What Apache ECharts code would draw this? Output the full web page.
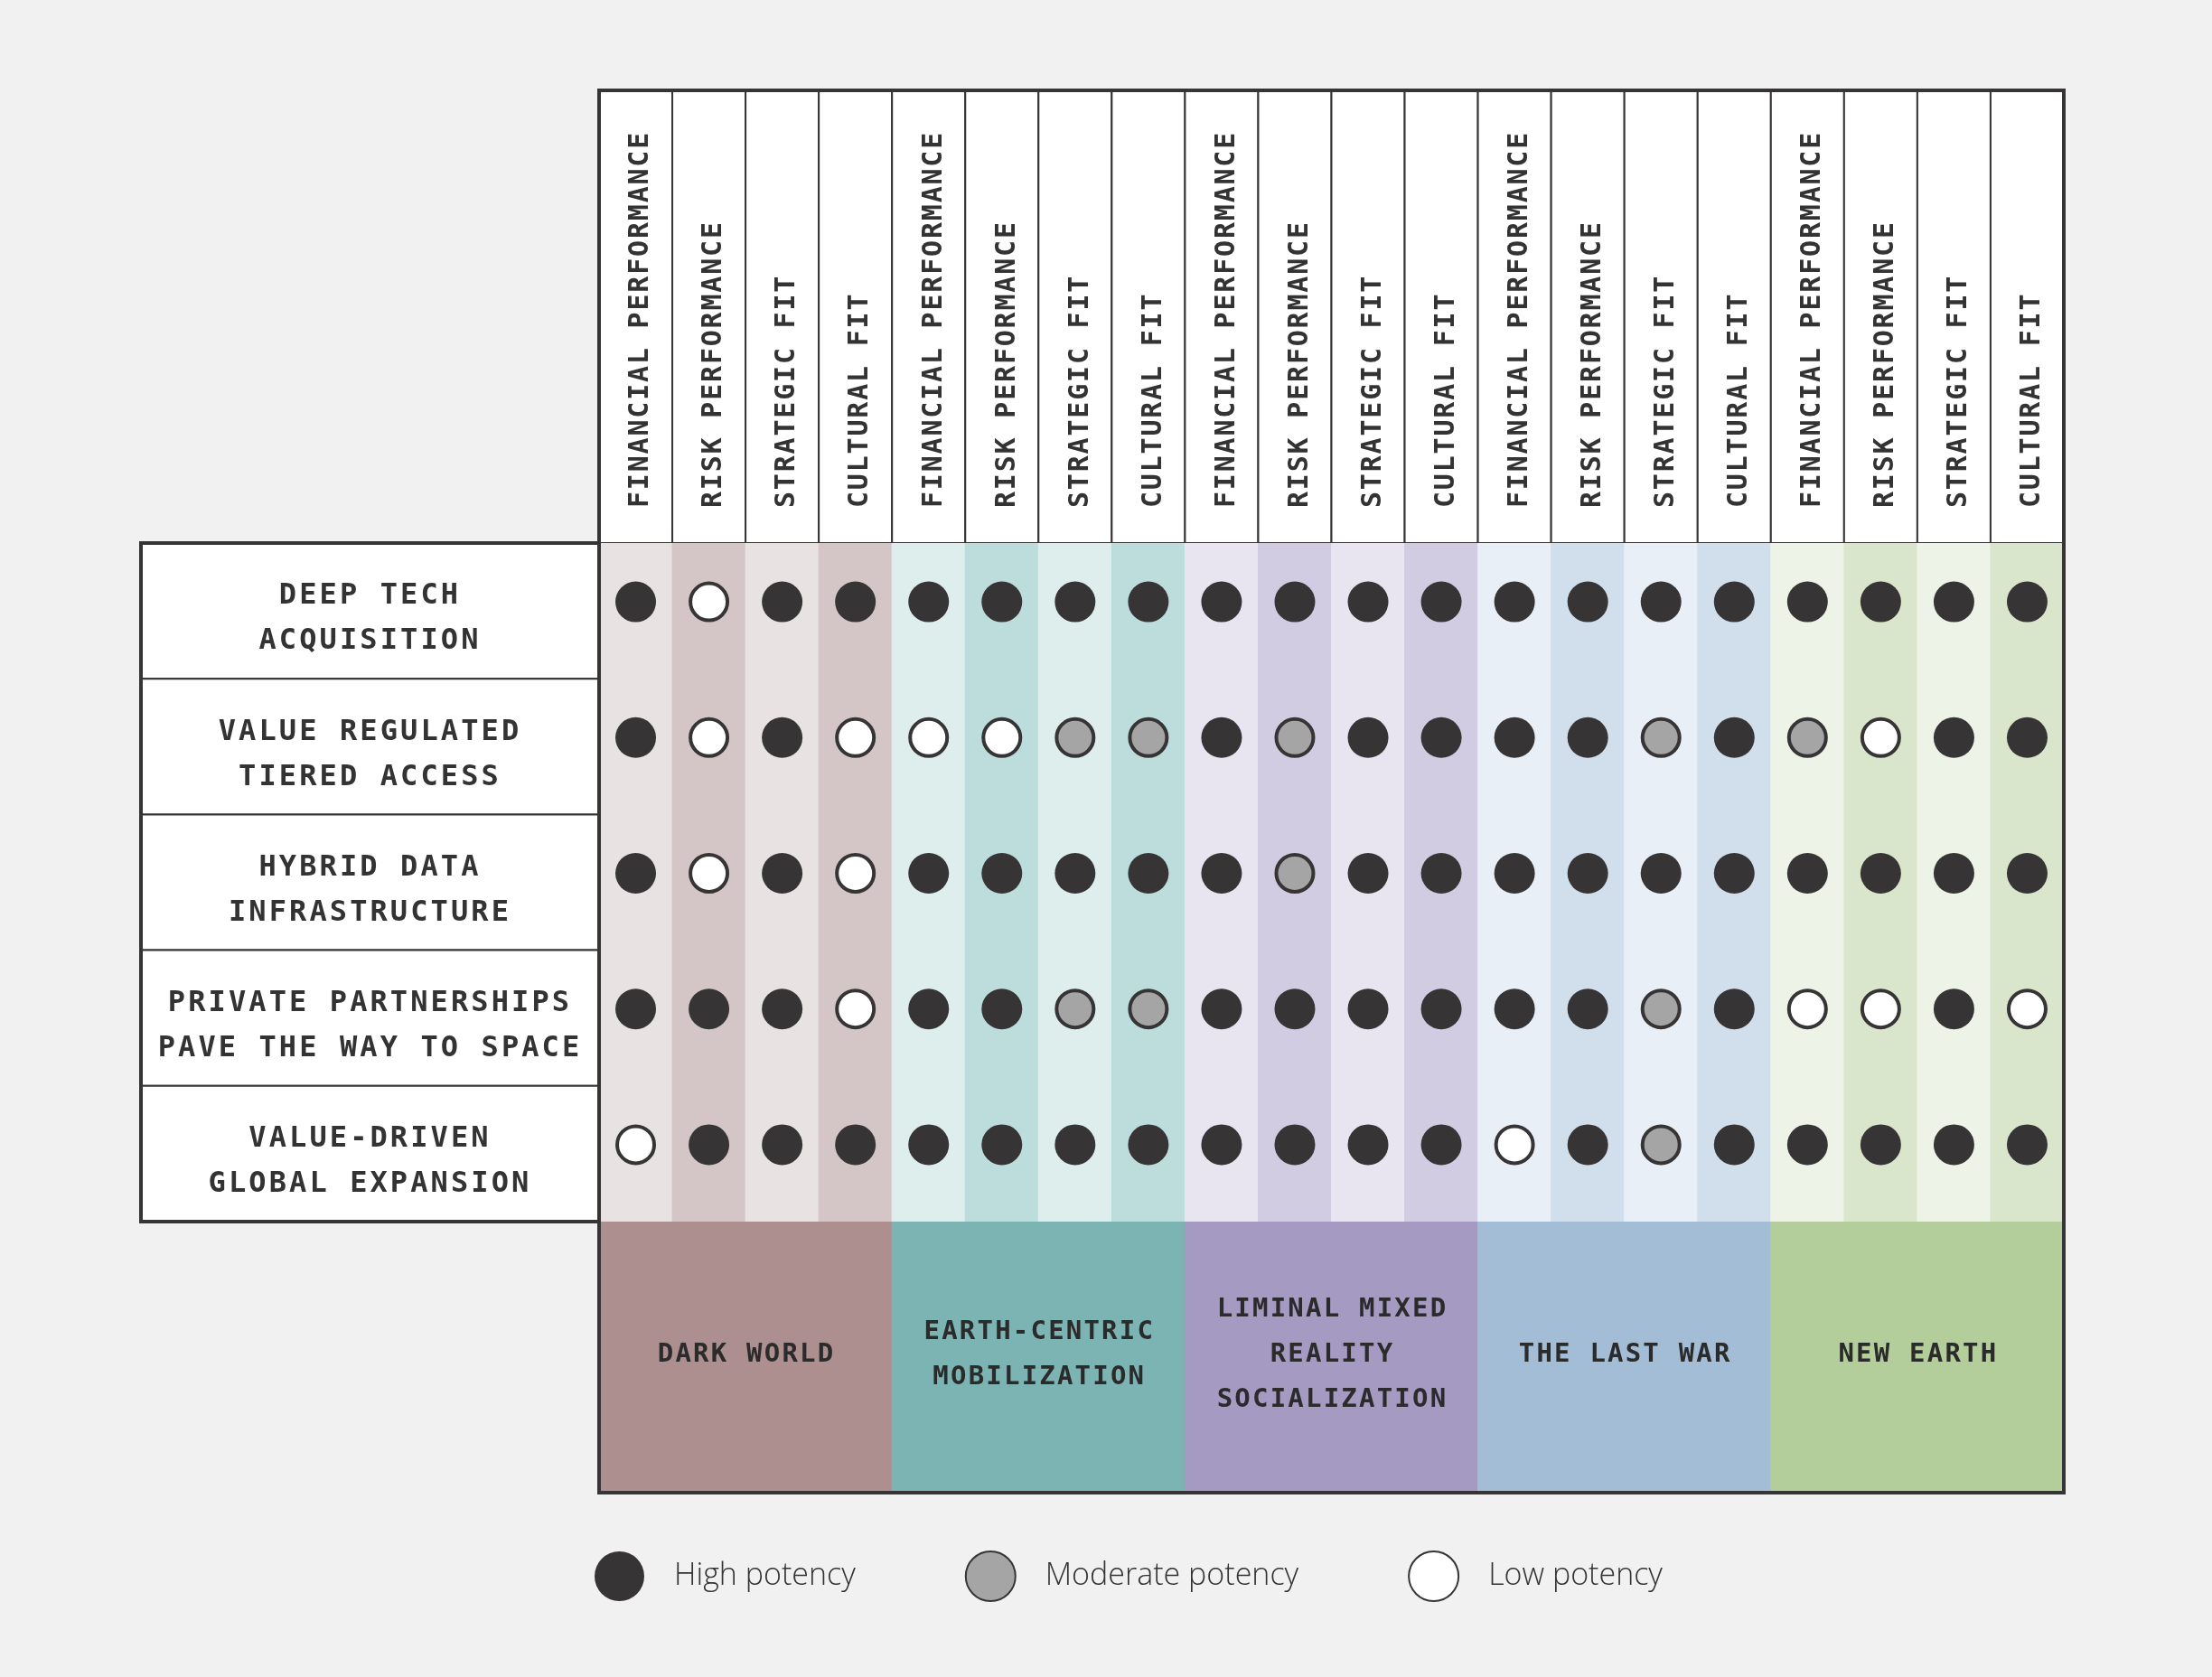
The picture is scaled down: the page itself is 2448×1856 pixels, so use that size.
<!DOCTYPE html>
<html><head><meta charset="utf-8">
<script src="https://cdn.jsdelivr.net/npm/echarts@6/dist/echarts.min.js"></script>
<style>html,body{margin:0;padding:0;background:#f1f1f1}#c{width:2448px;height:1856px}</style>
</head><body><div id="c"></div>
<script>
// ---------- data ----------
const criteria = ['FINANCIAL PERFORMANCE', 'RISK PERFORMANCE', 'STRATEGIC FIT', 'CULTURAL FIT'];
const scenarios = ['DARK WORLD', 'EARTH-CENTRIC\nMOBILIZATION', 'LIMINAL MIXED\nREALITY\nSOCIALIZATION', 'THE LAST WAR', 'NEW EARTH'];
const strategies = ['DEEP TECH\nACQUISITION', 'VALUE REGULATED\nTIERED ACCESS', 'HYBRID DATA\nINFRASTRUCTURE', 'PRIVATE PARTNERSHIPS\nPAVE THE WAY TO SPACE', 'VALUE-DRIVEN\nGLOBAL EXPANSION'];
const legendNames = ['High potency', 'Moderate potency', 'Low potency'];
// potency per column (5 scenarios x 4 criteria): H = high, M = moderate, L = low
const deepTech            = ['H','L','H','H', 'H','H','H','H', 'H','H','H','H', 'H','H','H','H', 'H','H','H','H'];
const valueRegulated      = ['H','L','H','L', 'L','L','M','M', 'H','M','H','H', 'H','H','M','H', 'M','L','H','H'];
const hybridData          = ['H','L','H','L', 'H','H','H','H', 'H','M','H','H', 'H','H','H','H', 'H','H','H','H'];
const privatePartnerships = ['H','H','H','L', 'H','H','M','M', 'H','H','H','H', 'H','H','M','H', 'L','L','H','L'];
const valueDriven         = ['L','H','H','H', 'H','H','H','H', 'H','H','H','H', 'L','H','M','H', 'H','H','H','H'];

// ---------- styles ----------
const stripeLight = ['#e8e2e2', '#deeeed', '#e8e5f1', '#e8eff7', '#edf3e7'];
const stripeDark  = ['#d4c6c6', '#bddcdc', '#d2cce3', '#d1dfec', '#d9e6cc'];
const bandColors  = ['#ad8f8f', '#7cb3b3', '#a59ac2', '#a3bdd7', '#b3ce9a'];
const INK = '#363435';
const MONO = '"DejaVu Sans Mono", monospace';

// letter spacing for the monospace labels (canvas letterSpacing)
const SPACING = {29: 2.2, 30: 1.8, 32: 3.1};
(function () {
  const proto = CanvasRenderingContext2D.prototype;
  const orig = proto.fillText;
  proto.fillText = function (t, x, y, mw) {
    if ('letterSpacing' in this) {
      const m = /(\d+(?:\.\d+)?)px/.exec(this.font);
      const sz = m ? Math.round(+m[1]) : 0;
      this.letterSpacing = (/Mono/i.test(this.font) && SPACING[sz]) ? SPACING[sz] + 'px' : '0px';
    }
    return mw === undefined ? orig.call(this, t, x, y) : orig.call(this, t, x, y, mw);
  };
})();

// ---------- build ----------
const rows = [deepTech, valueRegulated, hybridData, privatePartnerships, valueDriven];
const nCols = scenarios.length * criteria.length;
const colCats = Array.from({length: nCols}, (_, i) => String(i));
const colIdx = Array.from({length: nCols}, (_, i) => [i]);
const rowIdx = strategies.map((_, i) => [0, i]);
const bandIdx = scenarios.map((_, i) => [i]);
const pts = {H: [], M: [], L: []};
rows.forEach((r, ri) => r.forEach((v, ci) => pts[v].push([ci, ri])));

const G = {left: 663, right: 164};   // main matrix horizontal extent
const chart = echarts.init(document.getElementById('c'), null, {renderer: 'canvas'});

const hidden = {show: false};
const option = {
  backgroundColor: '#f1f1f1',
  animation: false,
  grid: [
    {left: G.left, right: G.right, top: 100, height: 501},   // 0 header
    {left: G.left, right: G.right, top: 601, height: 751},   // 1 matrix
    {left: 156, width: 507, top: 601, height: 751},          // 2 strategy labels
    {left: G.left, right: G.right, top: 1352, height: 300},  // 3 scenario band
    {left: G.left, right: G.right, top: 100, height: 1552}   // 4 outline
  ],
  xAxis: [
    {gridIndex: 0, type: 'category', data: colCats, ...hidden},
    {gridIndex: 1, type: 'category', data: colCats, ...hidden},
    {gridIndex: 2, type: 'value', min: 0, max: 1, ...hidden},
    {gridIndex: 3, type: 'category', data: scenarios, ...hidden},
    {gridIndex: 4, type: 'value', min: 0, max: 1, ...hidden}
  ],
  yAxis: [
    {gridIndex: 0, type: 'value', min: 0, max: 1, ...hidden},
    {gridIndex: 1, type: 'category', data: strategies, inverse: true, ...hidden},
    {gridIndex: 2, type: 'category', data: strategies, inverse: true, ...hidden},
    {gridIndex: 3, type: 'value', min: 0, max: 1, ...hidden},
    {gridIndex: 4, type: 'value', min: 0, max: 1, ...hidden}
  ],
  legend: {
    data: legendNames,
    left: 658, top: 1716,
    padding: 0,
    icon: 'circle',
    itemWidth: 55, itemHeight: 55,
    itemGap: 121,
    selectedMode: false,
    textStyle: {fontFamily: '"Open Sans", sans-serif', fontWeight: 300, fontSize: 34, color: '#333', padding: [0, 0, 0, 28]}
  },
  series: [
    { // header cells
      type: 'custom', xAxisIndex: 0, yAxisIndex: 0, data: colIdx, silent: true, z: 1,
      renderItem: (params, api) => {
        const cs = params.coordSys;
        const i = api.value(0);
        const x = api.coord([i, 0])[0];
        const w = api.size([1, 0])[0];
        return {type: 'group', children: [
          {type: 'rect', shape: {x: x - w / 2, y: cs.y, width: w, height: cs.height},
           style: {fill: '#ffffff', stroke: INK, lineWidth: 2}},
          {type: 'text', x: x + 6, y: cs.y + cs.height - 39, rotation: Math.PI / 2,
           style: {text: criteria[i % criteria.length], fontFamily: MONO, fontWeight: 'bold', fontSize: 30,
                   fill: '#333333', align: 'left', verticalAlign: 'middle'}}
        ]};
      }
    },
    { // matrix column stripes
      type: 'custom', xAxisIndex: 1, yAxisIndex: 1, data: colIdx, silent: true, z: 1,
      renderItem: (params, api) => {
        const cs = params.coordSys;
        const i = api.value(0);
        const x = api.coord([i, 0])[0];
        const w = api.size([1, 0])[0];
        const s = Math.floor(i / criteria.length);
        const fill = (i % 2 === 1) ? stripeDark[s] : stripeLight[s];
        return {type: 'rect', shape: {x: x - w / 2 - 0.5, y: cs.y, width: w + 1, height: cs.height}, style: {fill: fill}};
      }
    },
    { // strategy label boxes
      type: 'custom', xAxisIndex: 2, yAxisIndex: 2, data: rowIdx, silent: true, z: 1,
      renderItem: (params, api) => {
        const cs = params.coordSys;
        const r = api.value(1);
        const y = api.coord([0, r])[1];
        const h = api.size([0, 1])[1];
        return {type: 'group', children: [
          {type: 'rect', shape: {x: cs.x, y: y - h / 2, width: cs.width, height: h},
           style: {fill: '#ffffff', stroke: INK, lineWidth: 2}},
          {type: 'text', x: cs.x + cs.width / 2, y: y + 9,
           style: {text: strategies[r], fontFamily: MONO, fontWeight: 'bold', fontSize: 32, lineHeight: 50,
                   fill: '#333333', align: 'center', verticalAlign: 'middle'}}
        ]};
      }
    },
    { // strategy labels outline
      type: 'custom', xAxisIndex: 2, yAxisIndex: 2, data: [[0, 0]], silent: true, z: 6,
      renderItem: (params) => {
        const cs = params.coordSys;
        return {type: 'rect', shape: {x: cs.x, y: cs.y, width: cs.width, height: cs.height},
                style: {fill: 'none', stroke: INK, lineWidth: 4}};
      }
    },
    { // scenario band
      type: 'custom', xAxisIndex: 3, yAxisIndex: 3, data: bandIdx, silent: true, z: 1,
      renderItem: (params, api) => {
        const cs = params.coordSys;
        const i = api.value(0);
        const x = api.coord([i, 0])[0];
        const w = api.size([1, 0])[0];
        return {type: 'group', children: [
          {type: 'rect', shape: {x: x - w / 2 - 0.5, y: cs.y, width: w + 1, height: cs.height}, style: {fill: bandColors[i]}},
          {type: 'text', x: x + 1, y: cs.y + cs.height / 2 - 3,
           style: {text: scenarios[i], fontFamily: MONO, fontWeight: 'bold', fontSize: 29, lineHeight: 50,
                   fill: '#2b2b2b', align: 'center', verticalAlign: 'middle'}}
        ]};
      }
    },
    { // outer outline of header + matrix + band
      type: 'custom', xAxisIndex: 4, yAxisIndex: 4, data: [[0, 0]], silent: true, z: 6,
      renderItem: (params) => {
        const cs = params.coordSys;
        return {type: 'rect', shape: {x: cs.x, y: cs.y, width: cs.width, height: cs.height},
                style: {fill: 'none', stroke: INK, lineWidth: 4}};
      }
    },
    {
      name: legendNames[0], type: 'scatter', xAxisIndex: 1, yAxisIndex: 1, data: pts.H, z: 4,
      symbol: 'circle', symbolSize: 45, symbolOffset: [0, -10], silent: true,
      itemStyle: {color: INK, opacity: 1}, emphasis: {disabled: true}
    },
    {
      name: legendNames[1], type: 'scatter', xAxisIndex: 1, yAxisIndex: 1, data: pts.M, z: 4,
      symbol: 'circle', symbolSize: 41, symbolOffset: [0, -10], silent: true,
      itemStyle: {color: '#a5a5a5', borderColor: INK, borderWidth: 4, opacity: 1}, emphasis: {disabled: true}
    },
    {
      name: legendNames[2], type: 'scatter', xAxisIndex: 1, yAxisIndex: 1, data: pts.L, z: 4,
      symbol: 'circle', symbolSize: 41, symbolOffset: [0, -10], silent: true,
      itemStyle: {color: '#ffffff', borderColor: INK, borderWidth: 4, opacity: 1}, emphasis: {disabled: true}
    }
  ]
};
chart.setOption(option);
</script>
</body></html>
